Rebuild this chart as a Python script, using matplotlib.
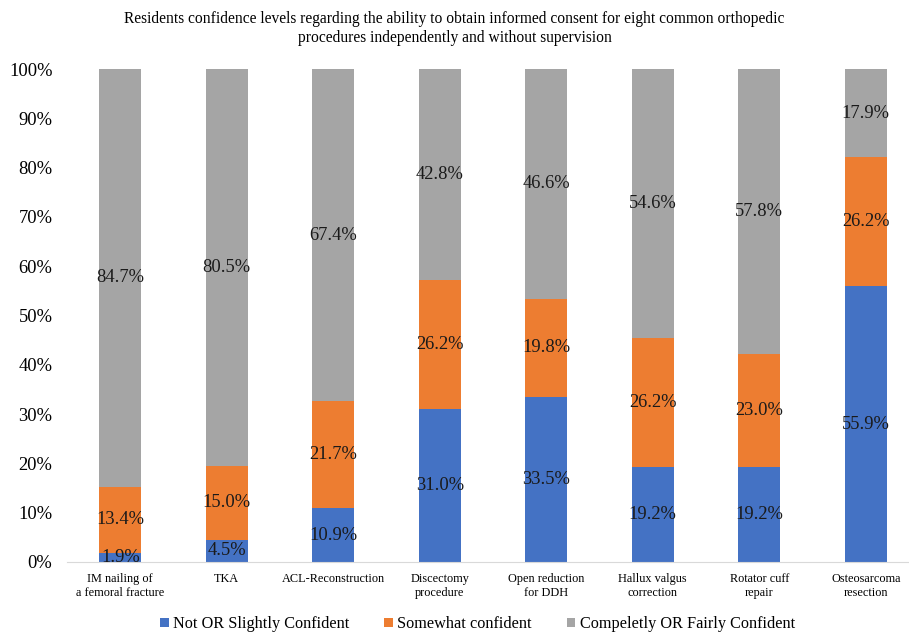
import numpy as np
import matplotlib.pyplot as plt

plt.rcParams['font.family'] = ['Liberation Serif', 'DejaVu Serif']

# data
categories = ['IM nailing of\na femoral fracture', 'TKA', 'ACL-Reconstruction',
              'Discectomy\nprocedure', 'Open reduction\nfor DDH', 'Hallux valgus\ncorrection',
              'Rotator cuff\nrepair', 'Osteosarcoma\nresection']
not_conf = [1.9, 4.5, 10.9, 31.0, 33.5, 19.2, 19.2, 55.9]
somewhat = [13.4, 15.0, 21.7, 26.2, 19.8, 26.2, 23.0, 26.2]
fairly = [84.7, 80.5, 67.4, 42.8, 46.6, 54.6, 57.8, 17.9]
series_names = ['Not OR Slightly Confident', 'Somewhat confident', 'Compeletly OR Fairly Confident']
colors = ['#4472C4', '#ED7D31', '#A5A5A5']

fig = plt.figure(figsize=(9.09, 6.33), dpi=100)
ax = fig.add_axes([67/909, 71/633, 852/909, 493/633])

x = np.arange(len(categories))
vals = np.array([not_conf, somewhat, fairly])
vals = vals / vals.sum(axis=0) * 100  # 100% stacked
bottom = np.zeros(len(categories))
for i in range(3):
    ax.bar(x, vals[i], bottom=bottom, width=0.39, color=colors[i], label=series_names[i])
    raw = [not_conf, somewhat, fairly][i]
    for j in range(len(x)):
        ax.text(x[j], bottom[j] + vals[i][j] / 2, f'{raw[j]:.1f}%', ha='center', va='center',
                fontsize=13.3, color='#1a1a1a')
    bottom += vals[i]

ax.set_xlim(-0.5, 7.5)
ax.set_ylim(0, 100)
ax.set_yticks(np.arange(0, 101, 10))
ax.set_yticklabels([f'{v}%' for v in range(0, 101, 10)], fontsize=13.3)
ax.set_xticks(x)
ax.set_xticklabels(categories, fontsize=8.8, linespacing=1.25)
ax.tick_params(length=0, pad=8)
ax.tick_params(axis='y', pad=10.5)
for s in ['top', 'right', 'left']:
    ax.spines[s].set_visible(False)
ax.spines['bottom'].set_color('#D9D9D9')

fig.text(0.5, 0.983, 'Residents confidence levels regarding the ability to obtain informed consent for eight common orthopedic\n'
         'procedures independently and without supervision', ha='center', va='top', fontsize=11.2, linespacing=1.25)

fig.legend(loc='lower center', bbox_to_anchor=(0.525, -0.022), ncol=3, frameon=False, fontsize=11.7,
           handlelength=0.55, handleheight=0.55, handletextpad=0.25, columnspacing=2.15)

fig.savefig('out.png', dpi=100)
